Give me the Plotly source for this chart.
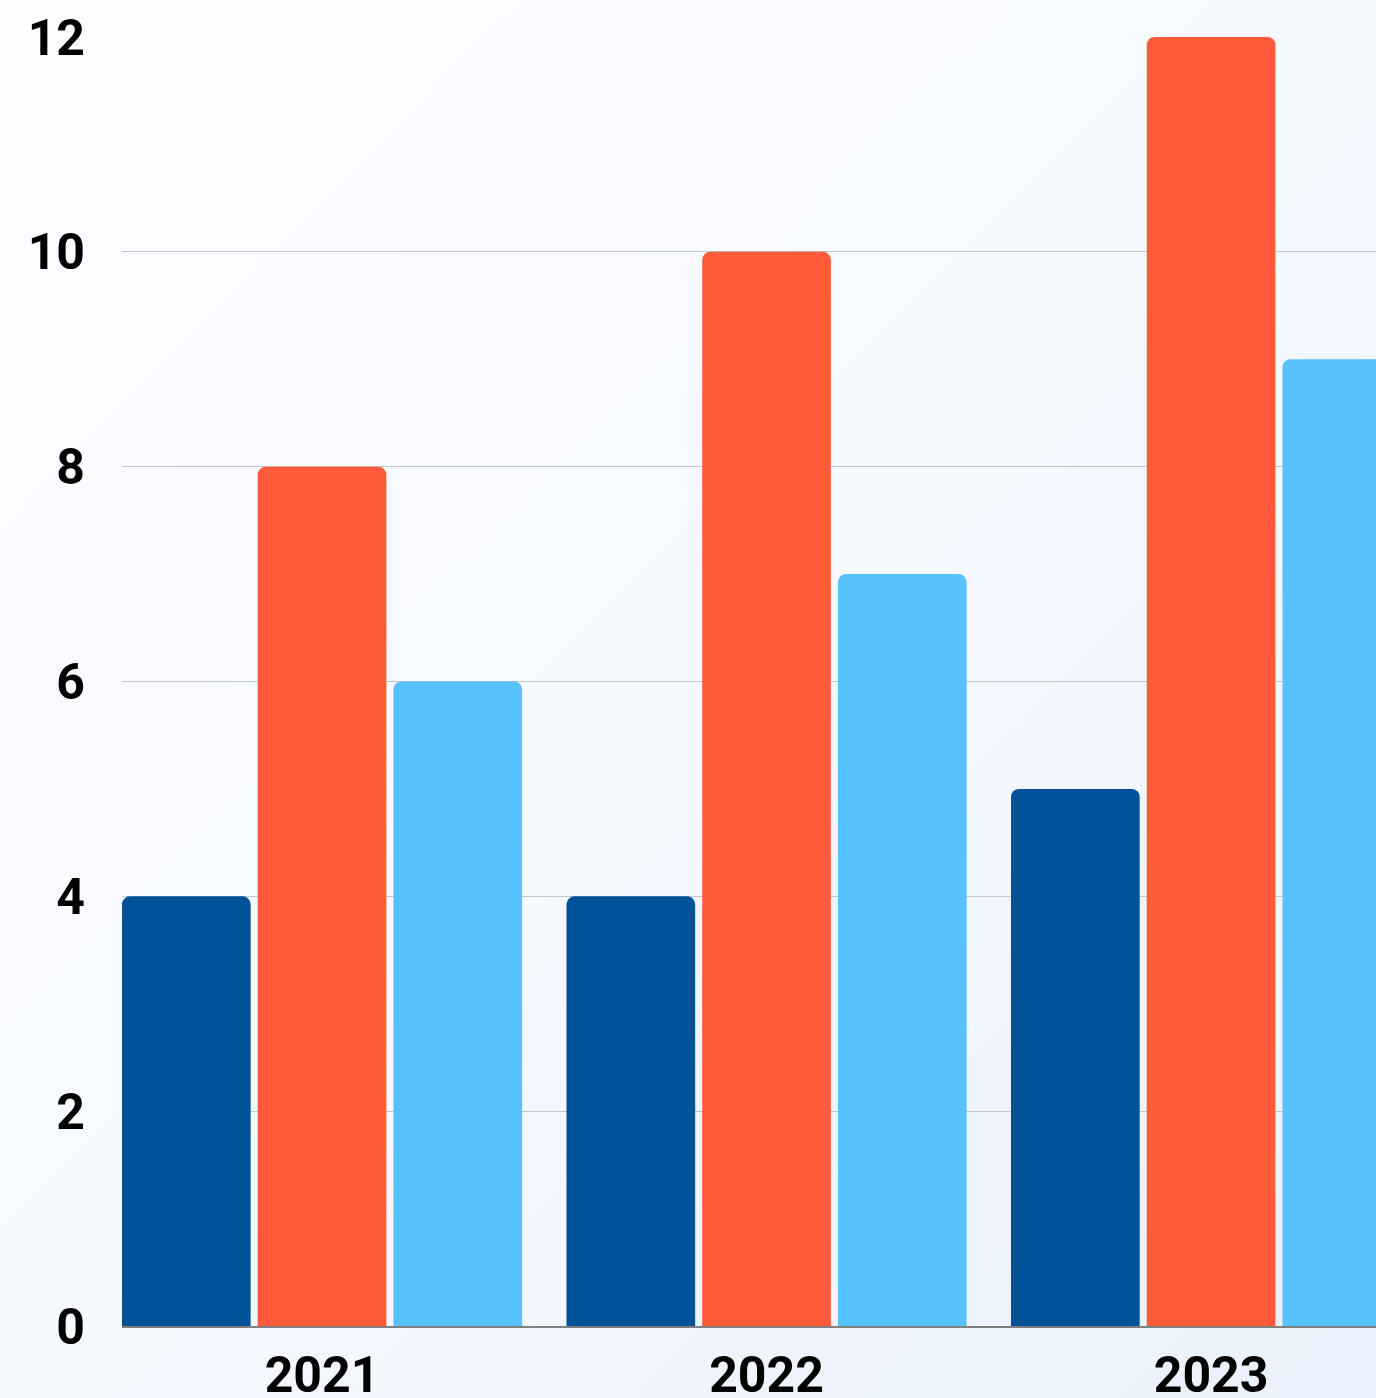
import base64
import plotly.graph_objects as go

years = ["2021", "2022", "2023"]
series_a = [4, 4, 5]
series_b = [8, 10, 12]
series_c = [6, 7, 9]
colors = ["#02529A", "#FF5A3A", "#58C1FF"]
y_ticks = [0, 2, 4, 6, 8, 10, 12]

W, H = 1376, 1398
ML, MR, MT, MB = 122, 0, 37, 72

fig = go.Figure()
for vals, col in zip([series_a, series_b, series_c], colors):
    fig.add_trace(go.Bar(x=years, y=vals, marker=dict(color=col, line=dict(width=0), cornerradius=8),
                         hoverinfo="skip", showlegend=False))

svg = ('<svg xmlns="http://www.w3.org/2000/svg" width="1376" height="1398">'
       '<defs><linearGradient id="g" x1="0" y1="0" x2="1" y2="1">'
       '<stop offset="0" stop-color="#FCFDFF"/><stop offset="0.5" stop-color="#F6F9FE"/>'
       '<stop offset="1" stop-color="#EAF1FC"/></linearGradient></defs>'
       '<rect width="1376" height="1398" fill="url(#g)"/></svg>')
uri = "data:image/svg+xml;base64," + base64.b64encode(svg.encode()).decode()
pw, ph = W - ML - MR, H - MT - MB

fig.update_layout(
    width=W, height=H,
    margin=dict(l=ML, r=MR, t=MT, b=MB, pad=0, autoexpand=False),
    barmode="group", bargap=0.084, bargroupgap=0.052,
    paper_bgcolor="#F6F9FE", plot_bgcolor="rgba(0,0,0,0)",
    font=dict(family="Roboto", size=52, color="#000000"),
    images=[dict(source=uri, xref="paper", yref="paper", x=-ML / pw, y=1 + MT / ph,
                 sizex=W / pw, sizey=H / ph, sizing="stretch", xanchor="left", yanchor="top",
                 layer="below")],
    xaxis=dict(range=[-0.45, 2.371], showgrid=False, showline=True, linecolor="#808080", linewidth=1.5,
               ticks="", tickfont=dict(family="Roboto", size=50, weight="bold", color="#000000"),
               ticklabelstandoff=4, zeroline=False, automargin=False),
    yaxis=dict(range=[0, 12], tickvals=y_ticks, showgrid=True, gridcolor="#C2C7CE", gridwidth=1.2,
               zeroline=False, showline=False, ticks="", automargin=False,
               tickfont=dict(family="Roboto", size=50, weight="bold", color="#000000"),
               ticklabelstandoff=36),
)

fig.write_html("out.html", config={"displayModeBar": False},
               post_script="document.body.style.margin='0';document.body.style.overflow='hidden';")
